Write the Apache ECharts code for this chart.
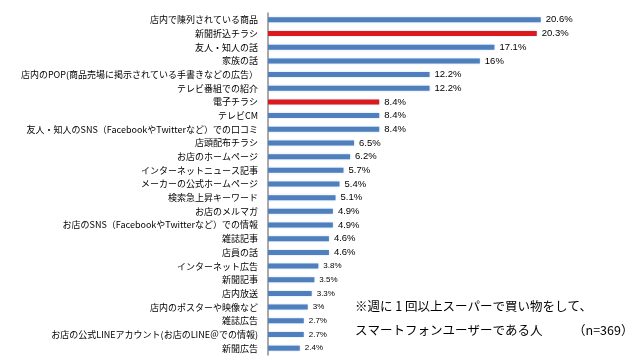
<!DOCTYPE html>
<html><head><meta charset="utf-8">
<script src="https://cdn.jsdelivr.net/npm/echarts@6/dist/echarts.min.js"></script>
<style>html,body{margin:0;padding:0;background:#fff;}#c{width:640px;height:362px;}</style>
</head><body><div id="c"></div>
<script>
const categories = [
  '店内で陳列されている商品',
  '新聞折込チラシ',
  '友人・知人の話',
  '家族の話',
  '店内のPOP(商品売場に掲示されている手書きなどの広告）',
  'テレビ番組での紹介',
  '電子チラシ',
  'テレビCM',
  '友人・知人のSNS（FacebookやTwitterなど）での口コミ',
  '店頭配布チラシ',
  'お店のホームページ',
  'インターネットニュース記事',
  'メーカーの公式ホームページ',
  '検索急上昇キーワード',
  'お店のメルマガ',
  'お店のSNS（FacebookやTwitterなど）での情報',
  '雑誌記事',
  '店員の話',
  'インターネット広告',
  '新聞記事',
  '店内放送',
  '店内のポスターや映像など',
  '雑誌広告',
  'お店の公式LINEアカウント(お店のLINE＠での情報)',
  '新聞広告'
];
const values = [20.6, 20.3, 17.1, 16, 12.2, 12.2, 8.4, 8.4, 8.4, 6.5, 6.2, 5.7, 5.4, 5.1, 4.9, 4.9, 4.6, 4.6, 3.8, 3.5, 3.3, 3, 2.7, 2.7, 2.4];
const highlighted = ['新聞折込チラシ', '電子チラシ'];
const noteLine1 = '※週に 1 回以上スーパーで買い物をして、';
const noteLine2 = 'スマートフォンユーザーである人';
const sampleNote = '（n=369）';

const BLUE = '#4f7fbd', RED = '#dc1a1e';
const seriesData = values.map((v, i) => ({
  value: v,
  itemStyle: { color: highlighted.includes(categories[i]) ? RED : BLUE },
  label: { fontSize: i >= 18 ? 8 : 9.5 }
}));

const noteFont = '12.5px "Noto Sans CJK JP"';
const chart = echarts.init(document.getElementById('c'), null, { renderer: 'canvas' });
chart.setOption({
  backgroundColor: '#fff',
  animation: false,
  grid: { left: 268, right: 41, top: 13, bottom: 7, containLabel: false },
  xAxis: { type: 'value', min: 0, max: 25, show: false },
  yAxis: {
    type: 'category', data: categories, inverse: true,
    axisLine: { show: true, lineStyle: { color: '#8c8c8c', width: 1.5 } },
    axisTick: { show: false },
    axisLabel: { margin: 10, fontSize: 9, color: '#000', fontFamily: 'Noto Sans CJK JP' }
  },
  series: [{
    type: 'bar', data: seriesData, barWidth: 5,
    itemStyle: { shadowColor: 'rgba(150,185,230,0.6)', shadowBlur: 2 },
    label: {
      show: true, position: 'right', distance: 5, color: '#000',
      fontFamily: 'Liberation Sans',
      formatter: p => p.value + '%'
    }
  }],
  graphic: [
    { type: 'text', left: 355, top: 300, style: { text: noteLine1, fill: '#000', font: noteFont } },
    { type: 'text', left: 355, top: 324, style: { text: noteLine2, fill: '#000', font: noteFont } },
    { type: 'text', left: 573, top: 324, style: { text: sampleNote, fill: '#000', font: noteFont } }
  ]
});
</script></body></html>
